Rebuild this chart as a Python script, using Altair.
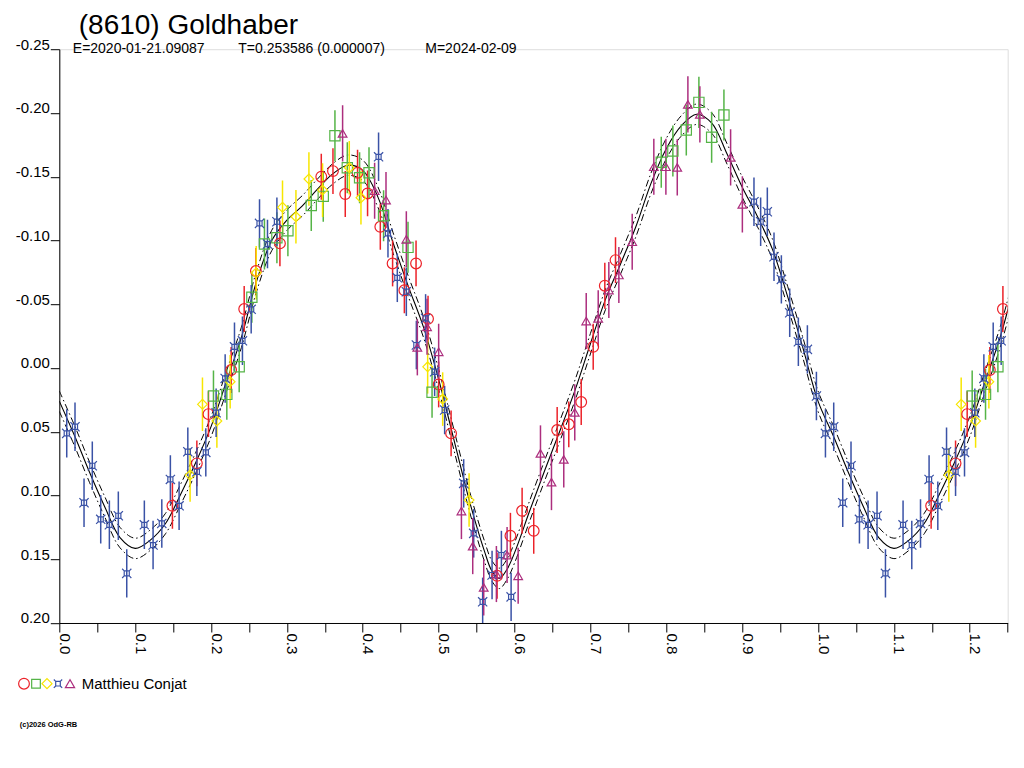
import altair as alt
import pandas as pd

FONT = "Liberation Sans"

TITLE = "(8610) Goldhaber"
SUB_E = "E=2020-01-21.09087"
SUB_T = "T=0.253586 (0.000007)"
SUB_M = "M=2024-02-09"
OBSERVER = "Matthieu Conjat"
COPYRIGHT = "(c)2026 OdG-RB"

SESSIONS = ["s1", "s2", "s3", "s4", "s5"]
COLORS = ["#ec2229", "#55b447", "#f7e600", "#3a52a6", "#ac2e7e"]
BLUE_PATH = ("M-0.55,-0.55H0.55V0.55H-0.55Z M-1,-1L-0.55,-0.55 M1,-1L0.55,-0.55 "
             "M1,1L0.55,0.55 M-1,1L-0.55,0.55")
SHAPES = ["circle", "square", "diamond", BLUE_PATH, "triangle-up"]
SIZES = [115, 75, 100, 70, 85]
ERR = [0.018, 0.02, 0.021, 0.019, 0.022]

# session 1 (red circles)
S1_PHASE = [0.1491, 0.1813, 0.1966, 0.2265, 0.2437, 0.2591, 0.2908, 0.3453, 0.3607, 0.3769,
            0.3931, 0.4063, 0.4231, 0.4393, 0.4702, 0.4548, 0.4860, 0.5000, 0.5164, 0.5770,
            0.5946, 0.6100, 0.6253, 0.6562, 0.6715, 0.6879, 0.7037, 0.7190, 0.7331]
S1_MAG = [0.1081, 0.0748, 0.0362, 0.0016, -0.0462, -0.0760, -0.0977, -0.1500, -0.1544, -0.1364,
          -0.1531, -0.1369, -0.1107, -0.0820, -0.0820, -0.0609, -0.0386, 0.0129, 0.0513, 0.1630,
          0.1316, 0.1120, 0.1277, 0.0487, 0.0442, 0.0267, -0.0166, -0.0645, -0.0846]

# session 2 (green squares)
S2_PHASE = [0.2032, 0.2208, 0.2371, 0.2538, 0.2704, 0.2868, 0.3013, 0.3321, 0.3479, 0.3633,
            0.3796, 0.3958, 0.4082, 0.4274, 0.4596, 0.4913, 0.7934, 0.8087, 0.8264, 0.8430,
            0.8598, 0.8760]
S2_MAG = [0.0220, 0.0207, -0.0009, -0.0554, -0.0972, -0.1021, -0.1076, -0.1275, -0.1346, -0.1821,
          -0.1570, -0.1492, -0.1531, -0.1194, -0.0946, 0.0191, -0.1613, -0.1701, -0.1866, -0.2083,
          -0.1809, -0.1984]

# session 3 (yellow diamonds)
S3_PHASE = [0.1724, 0.1887, 0.2077, 0.2252, 0.2595, 0.2942, 0.3119, 0.3290, 0.3470, 0.3822,
            0.3976, 0.4855, 0.5053, 0.5401]
S3_MAG = [0.0840, 0.0285, 0.0416, 0.0108, -0.0747, -0.1260, -0.1186, -0.1482, -0.1395, -0.1570,
          -0.1335, -0.0009, 0.0244, 0.1036]

# session 4 (blue)
S4_PHASE = [0.0098, 0.0207, 0.0326, 0.0435, 0.0546, 0.0660, 0.0778, 0.0889, 0.1121, 0.1236,
            0.1351, 0.1464, 0.1579, 0.1694, 0.1813, 0.1931, 0.2067, 0.2186, 0.2309, 0.2414,
            0.2529, 0.2639, 0.2744, 0.2868, 0.4208, 0.4332, 0.4455, 0.4574, 0.4828, 0.4706,
            0.4947, 0.5079, 0.5330, 0.5462, 0.5580, 0.5704, 0.5827, 0.5955, 0.9156, 0.9244,
            0.9332, 0.9420, 0.9517, 0.9627, 0.9741, 0.9860, 0.9979]
S4_MAG = [0.0513, 0.0461, 0.1057, 0.0767, 0.1187, 0.1230, 0.1159, 0.1611, 0.1230, 0.1389,
          0.1219, 0.0874, 0.1081, 0.0657, 0.0814, 0.0662, 0.0351, 0.0082, -0.0166, -0.0213,
          -0.0460, -0.1134, -0.0972, -0.1147, -0.1656, -0.1056, -0.0707, -0.0598, -0.0389, -0.0180,
          0.0030, 0.0330, 0.0905, 0.1297, 0.1834, 0.1624, 0.1467, 0.1795, -0.1304, -0.1147,
          -0.1225, -0.0872, -0.0695, -0.0433, -0.0205, -0.0146, 0.0220]

# session 5 (purple triangles)
S5_PHASE = [0.3734, 0.4156, 0.4306, 0.4574, 0.4847, 0.4719, 0.5000, 0.5300, 0.5449, 0.5594,
            0.5761, 0.5902, 0.6048, 0.6342, 0.6487, 0.6649, 0.6794, 0.6945, 0.7103, 0.7243,
            0.7375, 0.7551, 0.7836, 0.7995, 0.8145, 0.8285, 0.8443, 0.8848, 0.9003]
S5_MAG = [-0.1840, -0.1390, -0.1317, -0.1009, -0.0323, -0.0162, -0.0127, 0.1122, 0.1397, 0.1721,
          0.1616, 0.1467, 0.1630, 0.0670, 0.0895, 0.0717, 0.0348, -0.0368, -0.0389, -0.0611,
          -0.0729, -0.0990, -0.1578, -0.1578, -0.1573, -0.2067, -0.1989, -0.1652, -0.1283]

# fitted curve
FIT_PHASE = [0.00, 0.02, 0.04, 0.06, 0.08, 0.10, 0.12, 0.14, 0.16, 0.18, 0.20, 0.22, 0.24, 0.26,
             0.28, 0.30, 0.32, 0.34, 0.36, 0.38, 0.40, 0.42, 0.44, 0.46, 0.48, 0.50, 0.52, 0.54,
             0.55, 0.56, 0.57, 0.58, 0.59, 0.60, 0.62, 0.64, 0.66, 0.68, 0.70, 0.72, 0.74, 0.76,
             0.78, 0.80, 0.82, 0.84, 0.86, 0.88, 0.90, 0.92, 0.94, 0.96, 0.98, 1.00]
FIT_MAG = [0.026, 0.053, 0.082, 0.109, 0.133, 0.1415, 0.135, 0.122, 0.099, 0.074, 0.046, 0.011,
           -0.024, -0.068, -0.100, -0.116, -0.127, -0.140, -0.152, -0.159, -0.155, -0.134, -0.098,
           -0.064, -0.032, 0.009, 0.056, 0.103, 0.124, 0.143, 0.159, 0.165, 0.158, 0.145, 0.112,
           0.080, 0.049, 0.017, -0.019, -0.054, -0.082, -0.111, -0.145, -0.172, -0.190, -0.199,
           -0.192, -0.168, -0.142, -0.119, -0.093, -0.056, -0.016, 0.026]
BAND = 0.008

Y_TICKS = [-0.25, -0.2, -0.15, -0.1, -0.05, 0, 0.05, 0.1, 0.15, 0.2]
X_TICKS = [0, 0.05, 0.1, 0.15, 0.2, 0.25, 0.3, 0.35, 0.4, 0.45, 0.5, 0.55, 0.6, 0.65, 0.7,
           0.75, 0.8, 0.85, 0.9, 0.95, 1.0, 1.05, 1.1, 1.15, 1.2, 1.25]

# ---- build tables ----
rows = []
all_ph = [S1_PHASE, S2_PHASE, S3_PHASE, S4_PHASE, S5_PHASE]
all_mg = [S1_MAG, S2_MAG, S3_MAG, S4_MAG, S5_MAG]
for i, s in enumerate(SESSIONS):
    for p, m in zip(all_ph[i], all_mg[i]):
        rows.append({"phase": p, "mag": m, "lo": m - ERR[i], "hi": m + ERR[i], "session": s})
        if p + 1 <= 1.25:
            rows.append({"phase": p + 1, "mag": m, "lo": m - ERR[i], "hi": m + ERR[i], "session": s})
pts = pd.DataFrame(rows)

fit = pd.DataFrame({"phase": FIT_PHASE, "mag": FIT_MAG})
fit_rep = fit[fit["phase"] <= 0.26].copy()
fit_rep["phase"] = fit_rep["phase"] + 1
fit = pd.concat([fit, fit_rep[fit_rep["phase"] > 1.0]], ignore_index=True)

W, H = 948.4, 573.8

xs = alt.Scale(domain=[0, 1.25], nice=False, zero=False)
ys = alt.Scale(domain=[-0.25, 0.2], reverse=True, nice=False, zero=False)

x_axis = alt.Axis(values=X_TICKS, labelAngle=90, tickSize=9, labelPadding=1,
                  labelExpr="abs(round(datum.value*20) % 2) == 0 ? format(datum.value, '.1f') : ''",
                  labelFont=FONT, labelFontSize=15, labelColor="#000", tickColor="#000",
                  domainColor="#000", grid=False, labelFlush=False, labelOverlap=False,
                  labelBaseline="alphabetic", title="")
y_axis = alt.Axis(values=Y_TICKS, tickSize=9, labelPadding=1,
                  labelExpr="(datum.value < -0.001 ? '-' : '') + format(abs(datum.value), '.2f')",
                  labelFont=FONT, labelFontSize=15, labelColor="#000", tickColor="#000",
                  domainColor="#000", grid=False, labelFlush=False, labelOverlap=False,
                  labelBaseline="alphabetic", title="")

X = alt.X("phase:Q", scale=xs, axis=x_axis)
Y = alt.Y("mag:Q", scale=ys, axis=y_axis)

fit_base = alt.Chart(fit)
solid = fit_base.mark_line(color="#000", strokeWidth=1.1, interpolate="catmull-rom", clip=True).encode(
    x=X, y=Y, order="phase:Q")
upper = fit_base.transform_calculate(b="datum.mag - %f" % BAND).mark_line(
    color="#000", strokeWidth=1, strokeDash=[7, 3, 1.5, 3], interpolate="catmull-rom", clip=True
).encode(x=alt.X("phase:Q", scale=xs, axis=x_axis), y=alt.Y("b:Q", scale=ys, axis=y_axis), order="phase:Q")
lower = fit_base.transform_calculate(b="datum.mag + %f" % BAND).mark_line(
    color="#000", strokeWidth=1, strokeDash=[7, 3, 1.5, 3], interpolate="catmull-rom", clip=True
).encode(x=alt.X("phase:Q", scale=xs, axis=x_axis), y=alt.Y("b:Q", scale=ys, axis=y_axis), order="phase:Q")

color = alt.Color("session:N", scale=alt.Scale(domain=SESSIONS, range=COLORS), legend=None)

bars = alt.Chart(pts).mark_rule(strokeWidth=1.5, clip=True).encode(
    x=alt.X("phase:Q", scale=xs, axis=x_axis),
    y=alt.Y("lo:Q", scale=ys, axis=y_axis), y2="hi:Q", color=color)

points = alt.Chart(pts).mark_point(filled=False, strokeWidth=1.2, opacity=1, clip=True).encode(
    x=alt.X("phase:Q", scale=xs, axis=x_axis),
    y=alt.Y("mag:Q", scale=ys, axis=y_axis),
    color=color,
    shape=alt.Shape("session:N", scale=alt.Scale(domain=SESSIONS, range=SHAPES), legend=None),
    size=alt.Size("session:N", scale=alt.Scale(domain=SESSIONS, range=SIZES), legend=None))


def label(text, x, y, size, weight="normal"):
    return alt.Chart(pd.DataFrame({"t": [text]})).mark_text(
        align="left", baseline="alphabetic", font=FONT, fontSize=size, fontWeight=weight, color="#000"
    ).encode(x=alt.value(x), y=alt.value(y), text="t:N")


texts = [
    label(TITLE, 19.5, -15.5, 28),
    label(SUB_E, 13.5, 3.5, 14),
    label(SUB_T, 179, 3.5, 14),
    label(SUB_M, 366, 3.5, 14),
    label(OBSERVER, 22.5, 640, 15),
    label(COPYRIGHT, -39.5, 678, 7.5, "bold"),
]

leg_x = [-35.3, -23.3, -12.3, -1.3, 10.7]
legend_marks = []
for i, s in enumerate(SESSIONS):
    legend_marks.append(
        alt.Chart(pd.DataFrame({"session": [s]})).mark_point(
            filled=False, strokeWidth=1.2, opacity=1, shape=SHAPES[i], size=SIZES[i], color=COLORS[i]
        ).encode(x=alt.value(leg_x[i]), y=alt.value(634.5))
    )

chart = alt.layer(solid, upper, lower, bars, points, *texts, *legend_marks).properties(
    width=W, height=H,
    autosize=alt.AutoSizeParams(type="none"),
    padding={"left": 51.3, "top": 41.2, "right": 8, "bottom": 130},
).configure_view(strokeWidth=0).configure(font=FONT)

chart.save("out.html", embed_options={"renderer": "svg", "actions": False})
